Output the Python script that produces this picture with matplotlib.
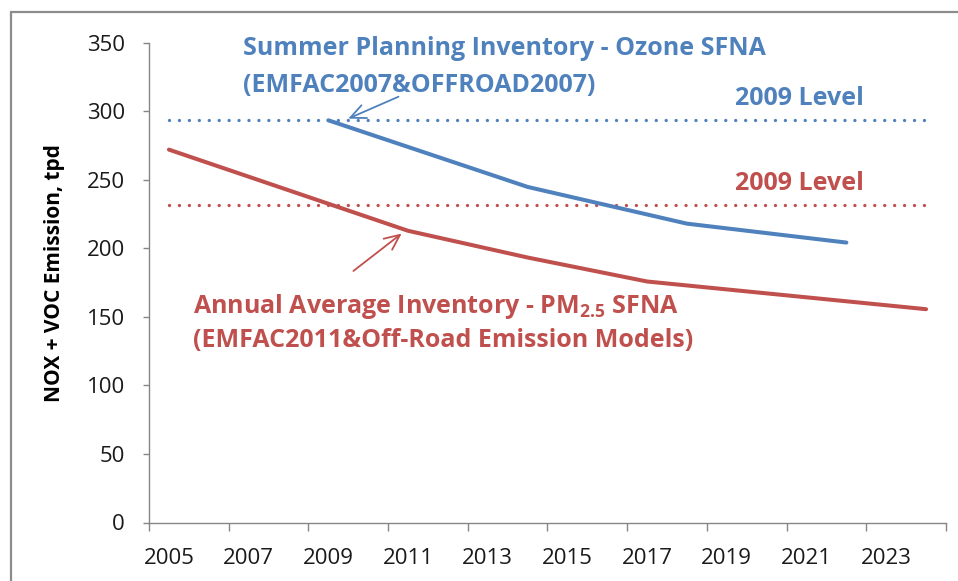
import matplotlib
matplotlib.use("Agg")
import matplotlib.pyplot as plt
from matplotlib.patches import Rectangle

# ---- data ----
years = list(range(2005, 2025))
label_years = [2005, 2007, 2009, 2011, 2013, 2015, 2017, 2019, 2021, 2023]

annual_years = [2005, 2011, 2014, 2017, 2024]
annual_values = [272.0, 212.8, 193.3, 175.8, 155.6]

summer_years = [2009, 2014, 2018, 2022]
summer_values = [293.4, 244.8, 218.0, 204.2]

summer_2009_level = 293.4
annual_2009_level = 231.4

yticks = [0, 50, 100, 150, 200, 250, 300, 350]

BLUE = "#4F81BD"
RED = "#C0504D"
FONT = "Open Sans"

plt.rcParams["font.family"] = [FONT, "DejaVu Sans"]
plt.rcParams["mathtext.fontset"] = "custom"
plt.rcParams["mathtext.rm"] = "Open Sans:bold"
plt.rcParams["mathtext.bf"] = "Open Sans:bold"
plt.rcParams["mathtext.it"] = "Open Sans:bold"

fig = plt.figure(figsize=(9.58, 5.81), dpi=100)
W, H = 958, 581
left, right, bottom, top = 149, 946, 522.5, 42.7
ax = fig.add_axes([left / W, 1 - bottom / H, (right - left) / W, (bottom - top) / H])

# dotted level lines
dot_style = (0, (0.01, 2.97))
ax.plot([years[0], years[-1]], [summer_2009_level] * 2, color=BLUE, lw=2.4,
        linestyle=dot_style, dash_capstyle="round")
ax.plot([years[0], years[-1]], [annual_2009_level] * 2, color=RED, lw=2.4,
        linestyle=dot_style, dash_capstyle="round")

# main lines
ax.plot(summer_years, summer_values, color=BLUE, lw=2.9, solid_capstyle="round",
        solid_joinstyle="round")
ax.plot(annual_years, annual_values, color=RED, lw=2.9, solid_capstyle="round",
        solid_joinstyle="round")

ax.set_xlim(2004.5, 2024.5)
ax.set_ylim(0, 350)

# axes styling
for s in ["top", "right"]:
    ax.spines[s].set_visible(False)
for s in ["left", "bottom"]:
    ax.spines[s].set_color("#868686")
    ax.spines[s].set_linewidth(1.0)

ax.set_yticks(yticks)
ax.tick_params(axis="y", direction="out", length=4.5, width=1.0, color="#868686",
               labelsize=16, labelcolor="#1a1a1a", pad=13)
ax.set_xticks(label_years)
ax.set_xticklabels([str(y) for y in label_years])
ax.tick_params(axis="x", which="major", length=0, labelsize=16,
               labelcolor="#1a1a1a", pad=18)
ax.set_xticks([y - 0.5 for y in years[::2]] + [years[-1] + 0.5], minor=True)
ax.tick_params(axis="x", which="minor", direction="out", length=5.5, width=1.0,
               color="#868686")

ax.set_ylabel("NOX + VOC Emission, tpd", fontsize=15, fontweight="bold",
              color="black")
ax.yaxis.set_label_coords(-0.105, 0.52)

# annotations
tkw = dict(fontsize=18, fontweight="bold", ha="left", va="baseline")
ax.text(2006.86, 340.7, "Summer Planning Inventory - Ozone SFNA", color=BLUE, **tkw)
ax.text(2006.86, 314.0, "(EMFAC2007&OFFROAD2007)", color=BLUE, **tkw)
ax.text(2019.2, 304.8, "2009 Level", color=BLUE, **tkw)
ax.text(2019.2, 242.3, "2009 Level", color=RED, **tkw)
ax.text(2005.6, 152.7, r"Annual Average Inventory - PM$_{\mathrm{2.5}}$ SFNA", color=RED, **tkw)
ax.text(2005.6, 127.8, "(EMFAC2011&Off-Road Emission Models)", color=RED, **tkw)

ax.annotate("", xy=(2009.5, 294.6), xytext=(2010.76, 310.6),
            arrowprops=dict(arrowstyle="->,head_length=1.1,head_width=0.5",
                            color=BLUE, lw=1.3, shrinkA=0, shrinkB=0))
ax.annotate("", xy=(2010.84, 210.8), xytext=(2009.63, 183.5),
            arrowprops=dict(arrowstyle="->,head_length=1.1,head_width=0.5",
                            color=RED, lw=1.3, shrinkA=0, shrinkB=0))

# outer chart frame
fig.patches.append(Rectangle((11 / W, -0.1), 1.2, 1 - 12 / H + 0.1,
                             transform=fig.transFigure, fill=False,
                             edgecolor="#8c8c8c", lw=1.6))

fig.savefig("out.png", dpi=100)
